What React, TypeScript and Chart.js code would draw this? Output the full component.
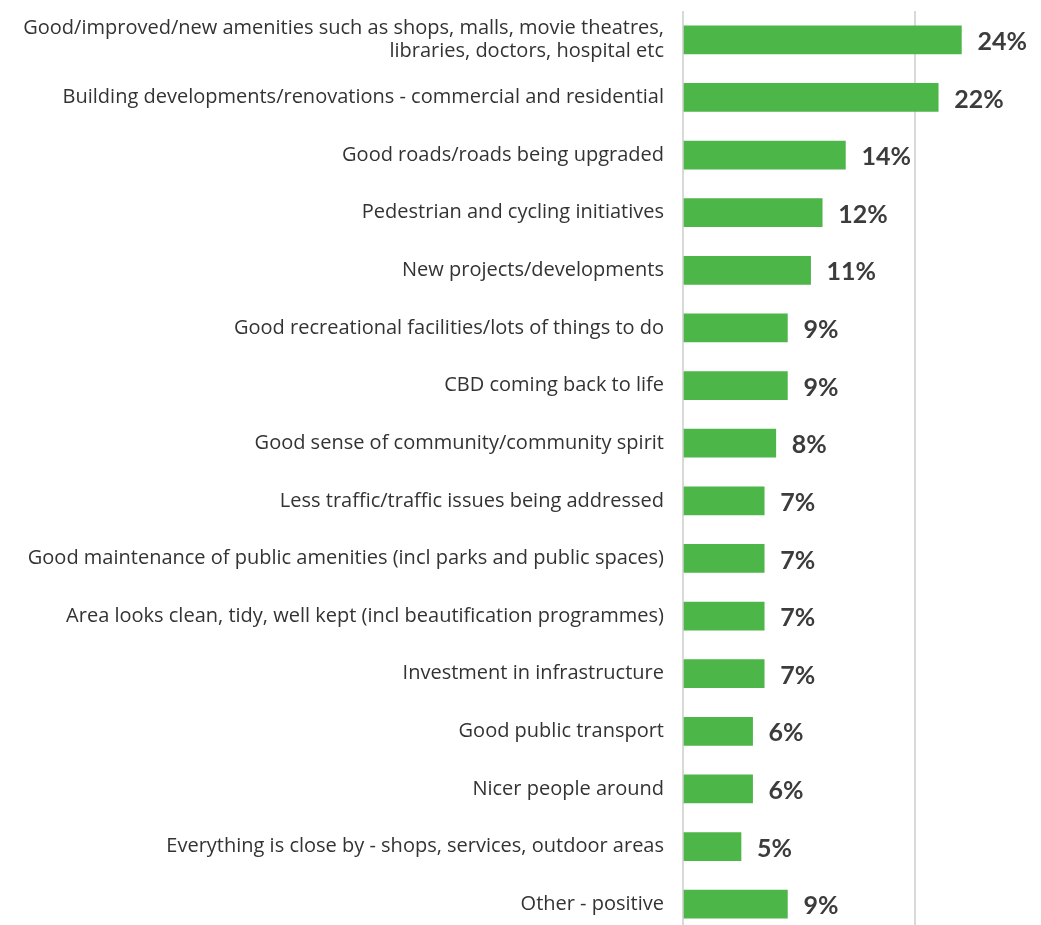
import React, { useEffect, useRef } from "react";
import { Chart, registerables } from "chart.js";

Chart.register(...registerables);

const categories: (string | string[])[] = [
  ["Good/improved/new amenities such as shops, malls, movie theatres,", "libraries, doctors, hospital etc"],
  "Building developments/renovations - commercial and residential",
  "Good roads/roads being upgraded",
  "Pedestrian and cycling initiatives",
  "New projects/developments",
  "Good recreational facilities/lots of things to do",
  "CBD coming back to life",
  "Good sense of community/community spirit",
  "Less traffic/traffic issues being addressed",
  "Good maintenance of public amenities (incl parks and public spaces)",
  "Area looks clean, tidy, well kept (incl beautification programmes)",
  "Investment in infrastructure",
  "Good public transport",
  "Nicer people around",
  "Everything is close by - shops, services, outdoor areas",
  "Other - positive",
];

const values: number[] = [24, 22, 14, 12, 11, 9, 9, 8, 7, 7, 7, 7, 6, 6, 5, 9];

const BAR_COLOR = "#4db649";
const GRID_COLOR = "#d9d9d9";
const TEXT_COLOR = "#333333";
const VALUE_COLOR = "#3c3c3c";

const valueLabels = {
  id: "valueLabels",
  afterDatasetsDraw(chart: any) {
    const ctx = chart.ctx;
    const meta = chart.getDatasetMeta(0);
    ctx.save();
    ctx.font = "bold 25px Lato, 'Open Sans', sans-serif";
    ctx.fillStyle = VALUE_COLOR;
    ctx.textAlign = "left";
    ctx.textBaseline = "middle";
    meta.data.forEach((bar: any, i: number) => {
      ctx.fillText(values[i] + "%", bar.x + 16, bar.y + 2);
    });
    ctx.restore();
  },
};

export default function App() {
  const ref = useRef<HTMLCanvasElement>(null);
  useEffect(() => {
    if (!ref.current) return;
    const chart = new Chart(ref.current, {
      type: "bar",
      data: {
        labels: categories,
        datasets: [
          {
            data: values,
            backgroundColor: BAR_COLOR,
            borderWidth: 0,
            barThickness: 28,
          },
        ],
      },
      options: {
        indexAxis: "y",
        responsive: false,
        animation: false,
        layout: { padding: { top: 3, right: 2, bottom: 0, left: 0 } },
        plugins: {
          legend: { display: false },
          tooltip: { enabled: false },
        },
        scales: {
          x: {
            min: 0,
            max: 30,
            ticks: { display: false, stepSize: 20 },
            border: { display: false },
            grid: {
              drawTicks: false,
              lineWidth: 2,
              color: (c: any) =>
                c.tick && (c.tick.value === 0 || c.tick.value === 20) ? GRID_COLOR : "rgba(0,0,0,0)",
            },
          },
          y: {
            grid: { display: false, drawTicks: false },
            border: { display: false },
            afterFit: (scale: any) => {
              scale.width = 675;
              scale.paddingTop = 0;
              scale.paddingBottom = 0;
            },
            ticks: {
              padding: 19,
              color: TEXT_COLOR,
              font: { family: "'Open Sans', sans-serif", size: 20, lineHeight: 1.15 },
              autoSkip: false,
            },
          },
        },
      },
      plugins: [valueLabels],
    });
    return () => chart.destroy();
  }, []);
  return <canvas ref={ref} width={1025} height={925} />;
}
